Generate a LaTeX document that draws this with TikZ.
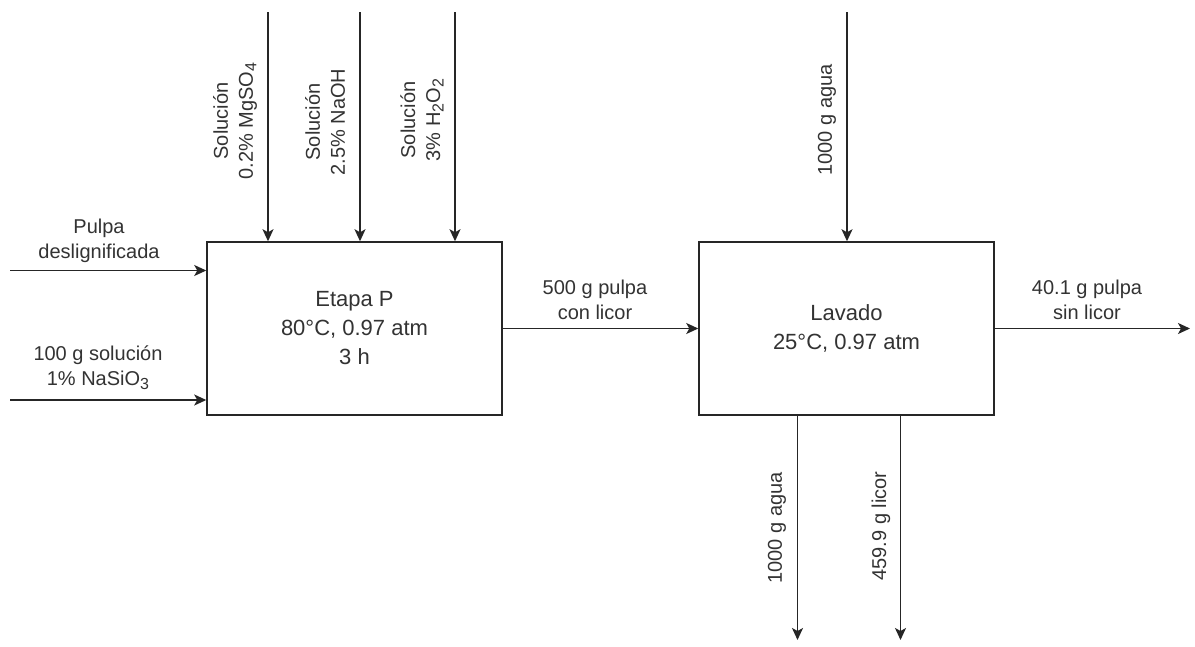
\documentclass[tikz,border=0pt]{standalone}
\usepackage{fontspec}
\setmainfont{Liberation Sans}
\usetikzlibrary{arrows.meta}
\newcommand{\lowsub}[1]{\raisebox{-0.35ex}{\fontsize{16}{16}\selectfont #1}}
\begin{document}
\begin{tikzpicture}[x=1pt,y=-1pt,
  flow/.style={draw=black!85, line width=1.5pt, -{Stealth[length=12pt,width=11pt,inset=3pt]}},
  unit/.style={draw=black!85, line width=1.5pt, minimum width=295pt, minimum height=173pt,
    inner sep=0pt, font=\fontsize{22}{29}\selectfont, align=center, text=black!80},
  lbl/.style={font=\fontsize{20}{25}\selectfont, align=center, text=black!80, inner sep=0pt}]
\useasboundingbox (0,0) rectangle (1195,646);
\fill[white] (0,0) rectangle (1195,646);
% units
\node[unit] (etapa) at (354.5,328.5) {Etapa P\\80°C, 0.97 atm\\3 h};
\node[unit] (lavado) at (846.5,328.5) {Lavado\\25°C, 0.97 atm};
% free ends
\coordinate (inA) at (10,270.5);
\coordinate (inB) at (10,400);
\coordinate (topA) at (268,12);
\coordinate (topB) at (360,12);
\coordinate (topC) at (455,12);
\coordinate (topW) at (847,12);
\coordinate (outR) at (1190,328.5);
\coordinate (botA) at (797.5,640);
\coordinate (botB) at (900.5,640);
% connectors
\draw[flow] (inA) -- (inA -| etapa.west);
\draw[flow] (inB) -- (inB -| etapa.west);
\draw[flow] (topA) -- (topA |- etapa.north);
\draw[flow] (topB) -- (topB |- etapa.north);
\draw[flow] (topC) -- (topC |- etapa.north);
\draw[flow] (etapa.east) -- (lavado.west);
\draw[flow] (topW) -- (topW |- lavado.north);
\draw[flow] (lavado.east) -- (outR);
\draw[flow] (botA |- lavado.south) -- (botA);
\draw[flow] (botB |- lavado.south) -- (botB);
% labels
\node[lbl] (lpulpa) at (99,241) {Pulpa\\deslignificada};
\node[lbl] (lsol) at (98,368) {100 g solución\\1\% NaSiO\lowsub{3}};
\node[lbl, rotate=90] (lmg) at (235,121) {Solución\\0.2\% MgSO\lowsub{4}};
\node[lbl, rotate=90] (lna) at (325,122) {Solución\\2.5\% NaOH};
\node[lbl, rotate=90] (lh) at (422,120) {Solución\\3\% H\lowsub{2}O\lowsub{2}};
\node[lbl] (lmid) at (595,300) {500 g pulpa\\con licor};
\node[lbl] (lout) at (1087,300) {40.1 g pulpa\\sin licor};
\node[lbl, rotate=90] (lagua) at (827,120) {1000 g agua};
\node[lbl, rotate=90] (laguab) at (777,528) {1000 g agua};
\node[lbl, rotate=90] (llicor) at (881,526) {459.9 g licor};
\end{tikzpicture}
\end{document}
